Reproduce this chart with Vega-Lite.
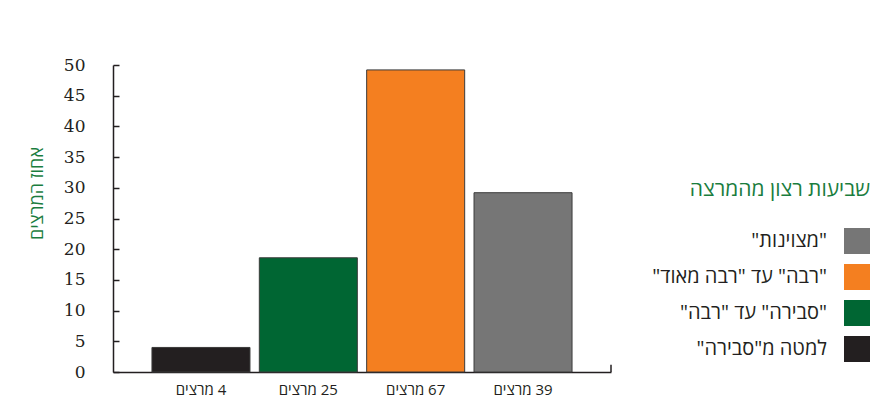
{
  "$schema": "https://vega.github.io/schema/vega-lite/v6.json",
  "autosize": {"type": "none"},
  "width": 498,
  "height": 307,
  "padding": {"left": 113, "top": 65, "right": 278, "bottom": 43},
  "background": "white",
  "config": {
    "view": {"stroke": null},
    "font": "Open Sans, Liberation Sans, DejaVu Sans, sans-serif"
  },
  "data": {
    "values": [
      {"category": "\u200f4 מרצים", "level": "למטה מ\"סבירה\"\u200f", "pct": 4},
      {"category": "\u200f25 מרצים", "level": "\"סבירה\" עד \"רבה\"", "pct": 18.6},
      {"category": "\u200f67 מרצים", "level": "\"רבה\" עד \"רבה מאוד\"", "pct": 49.2},
      {"category": "\u200f39 מרצים", "level": "\"מצוינות\"", "pct": 29.2}
    ]
  },
  "encoding": {
    "y": {
      "field": "pct",
      "type": "quantitative",
      "scale": {"domain": [0, 50]},
      "axis": {
        "title": "אחוז המרצים",
        "titleColor": "#1a7d3e",
        "titleFontSize": 18,
        "titleFontWeight": "normal",
        "titleAngle": -90,
        "titleX": -76,
        "titleY": 128,
        "titleAlign": "center",
        "titleBaseline": "middle",
        "values": [0, 5, 10, 15, 20, 25, 30, 35, 40, 45, 50],
        "labelOverlap": false,
        "grid": false,
        "domainColor": "#231f20",
        "domainWidth": 1.5,
        "tickColor": "#231f20",
        "tickWidth": 1.5,
        "tickSize": -6,
        "labelFont": "DejaVu Serif",
        "labelFontSize": 17,
        "labelColor": "#231f20",
        "labelPadding": 34,
        "labelBaseline": "middle"
      }
    }
  },
  "layer": [
    {
      "mark": {"type": "bar", "stroke": "#3a3a3a", "strokeWidth": 1},
      "encoding": {
        "x": {
          "field": "category",
          "type": "nominal",
          "sort": null,
          "scale": {"paddingInner": 0.087, "paddingOuter": 0.363},
          "axis": {
            "title": null,
            "labelAngle": 0,
            "ticks": false,
            "domainColor": "#231f20",
            "domainWidth": 1.5,
            "labelFontSize": 15,
            "labelColor": "#231f20",
            "labelPadding": 10
          }
        },
        "color": {
          "field": "level",
          "type": "nominal",
          "scale": {
            "domain": ["\"מצוינות\"", "\"רבה\" עד \"רבה מאוד\"", "\"סבירה\" עד \"רבה\"", "למטה מ\"סבירה\"\u200f"],
            "range": ["#767676", "#f47f20", "#006633", "#231f20"]
          },
          "legend": {
            "orient": "none",
            "legendX": 577,
            "legendY": 114,
            "title": "שביעות רצון מהמרצה",
            "titleColor": "#1a7d3e",
            "titleFontSize": 21,
            "titleFontWeight": "normal",
            "titleAnchor": "end",
            "titleLimit": 400,
            "titlePadding": 28,
            "symbolType": "square",
            "symbolSize": 676,
            "symbolStrokeWidth": 0,
            "symbolOpacity": 1,
            "labelAlign": "right",
            "labelOffset": -43,
            "labelFontSize": 20,
            "labelColor": "#231f20",
            "labelLimit": 400,
            "rowPadding": 10
          }
        }
      }
    },
    {
      "data": {"values": [{"edge": 1, "pct": 0, "high": 1.2}]},
      "mark": {"type": "rule", "color": "#231f20", "strokeWidth": 1.5},
      "encoding": {
        "x": {"field": "edge", "type": "quantitative", "scale": {"domain": [0, 1]}, "axis": null},
        "y2": {"field": "high"}
      }
    }
  ],
  "resolve": {"scale": {"x": "independent"}}
}
